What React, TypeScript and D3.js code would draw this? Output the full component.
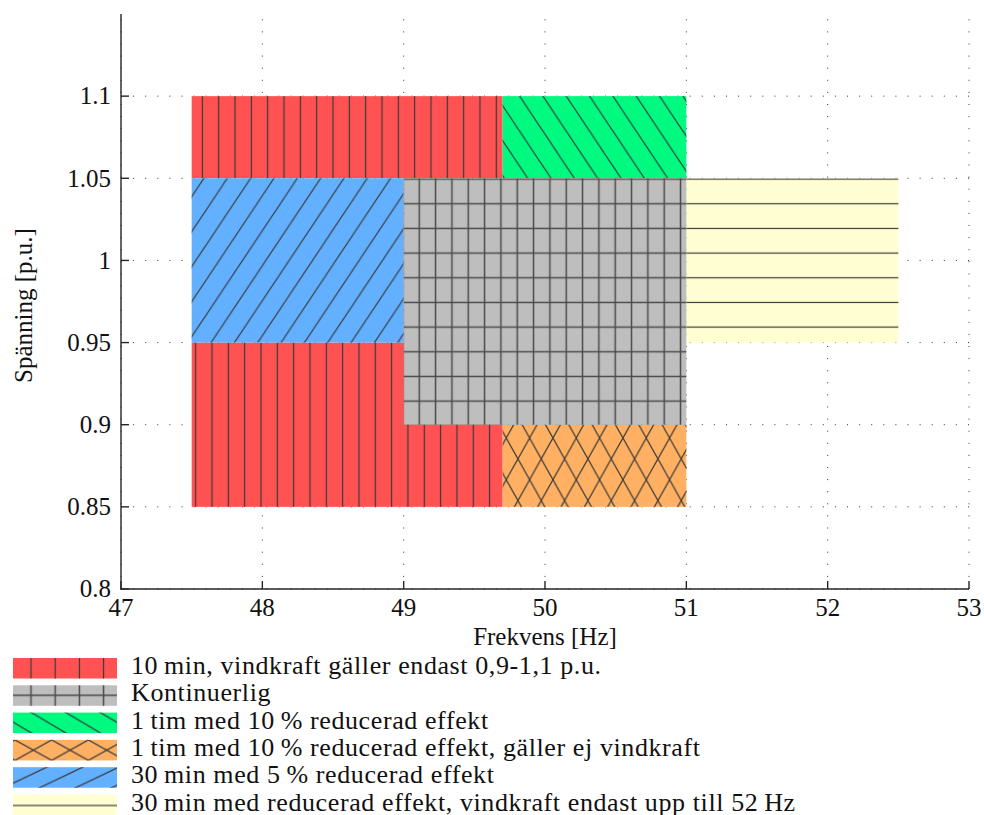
import React from 'react';
import * as d3 from 'd3';

// axis ticks
const freqTicks = [47, 48, 49, 50, 51, 52, 53];
const voltTicks = [0.8, 0.85, 0.9, 0.95, 1, 1.05, 1.1];
const voltTickLabels = ['0.8', '0.85', '0.9', '0.95', '1', '1.05', '1.1'];

// regions (draw order), frequency [Hz] and voltage [p.u.] bounds
const regionKeys = ['redTop', 'redBottom', 'green', 'orange', 'yellow', 'blue', 'gray'];
const regionFreqLo = [47.5, 47.5, 49.7, 49.7, 51, 47.5, 49];
const regionFreqHi = [49.7, 49.7, 51, 51, 52.5, 49, 51];
const regionVoltLo = [1.05, 0.85, 1.05, 0.85, 0.95, 0.95, 0.9];
const regionVoltHi = [1.1, 0.95, 1.1, 0.9, 1.05, 1.05, 1.05];
const regionKind = ['red', 'red', 'green', 'orange', 'yellow', 'blue', 'gray'];

// legend
const legendKinds = ['red', 'gray', 'green', 'orange', 'blue', 'yellow'];
const legendLabels = [
  '10\u2009min, vindkraft gäller endast 0,9-1,1 p.u.',
  'Kontinuerlig',
  '1\u2009tim med 10\u2009% reducerad effekt',
  '1\u2009tim med 10\u2009% reducerad effekt, gäller ej vindkraft',
  '30\u2009min med 5\u2009% reducerad effekt',
  '30\u2009min med reducerad effekt, vindkraft endast upp till 52\u2009Hz',
];

const fills: Record<string, string> = {
  red: '#ff5252',
  gray: '#bebebe',
  green: '#00fa80',
  orange: '#ffb062',
  blue: '#62b0ff',
  yellow: '#ffffd2',
};

// hatch look for each region: type, tile size, anchor offset from rect top-left
const plotHatch: Record<string, any> = {
  redTop: { type: 'v', w: 16.33, h: 20, dx: 10.7, dy: 0 },
  redBottom: { type: 'v', w: 16.33, h: 20, dx: 4, dy: 0 },
  gray: { type: 'grid', w: 16.33, h: 24.67, dx: 15.6, dy: 0.8 },
  yellow: { type: 'h', w: 20, h: 24.67, dx: 0, dy: 0.8 },
  blue: { type: 'fwd', w: 23.33, h: 35, dx: 12.3, dy: 0 },
  green: { type: 'back', w: 23.33, h: 35, dx: 17, dy: 0 },
  orange: { type: 'cross', w: 23.33, h: 41.7, dx: 27, dy: 13.3 },
};

const legendHatch: Record<string, any> = {
  red: { type: 'v', w: 24.2, h: 20, dx: 18, dy: 0 },
  gray: { type: 'grid', w: 24.2, h: 60, dx: 18, dy: 10 },
  green: { type: 'back', w: 34.5, h: 20.5, dx: 18.5, dy: 0 },
  orange: { type: 'cross', w: 36.7, h: 20.5, dx: 38.7, dy: 0 },
  blue: { type: 'fwd', w: 36, h: 17.2, dx: 33.7, dy: 0 },
  yellow: { type: 'h', w: 20, h: 60, dx: 0, dy: 11 },
};

const W = 984;
const H = 815;
const margin = { left: 121, right: 15, top: 14, bottom: 226 };
const serif = { fontFamily: '"Liberation Serif", serif' };
const fontSize = 25;
const ink = '#262626';

function Hatch({ id, spec, x0, y0 }: { id: string; spec: any; x0: number; y0: number }) {
  const { type, w, h, dx, dy } = spec;
  const stroke = type === 'grid' ? '#4a4a4a' : '#383838';
  const sw = type === 'grid' ? 1.5 : 1.2;
  let px = x0 + dx;
  let py = y0 + dy;
  let d = '';
  if (type === 'v') {
    px -= w / 2;
    d = `M${w / 2},-1V${h + 1}`;
  } else if (type === 'h') {
    py -= h / 2;
    d = `M-1,${h / 2}H${w + 1}`;
  } else if (type === 'grid') {
    px -= w / 2;
    py -= h / 2;
    d = `M${w / 2},-1V${h + 1}M-1,${h / 2}H${w + 1}`;
  } else {
    const fwd = [-w, 0, w].map(o => `M${o - w},${2 * h}L${o + 2 * w},${-h}`).join('');
    const back = [-w, 0, w].map(o => `M${o - w},${-h}L${o + 2 * w},${2 * h}`).join('');
    d = type === 'fwd' ? fwd : type === 'back' ? back : fwd + back;
  }
  return (
    <pattern id={id} patternUnits="userSpaceOnUse" x={px} y={py} width={w} height={h}>
      <path d={d} stroke={stroke} strokeWidth={sw} fill="none" />
    </pattern>
  );
}

export default function App() {
  const x = d3.scaleLinear().domain([47, 53]).range([margin.left, W - margin.right]);
  const y = d3.scaleLinear().domain([0.8, 1.15]).range([H - margin.bottom, margin.top]);
  const [x0, x1] = x.range();
  const [yb, yt] = y.range();

  const legendTop = 658;
  const legendStep = 27.3;
  const swatch = { x: 13, w: 104, h: 20.5 };

  return (
    <svg width={W} height={H} style={{ position: 'absolute', left: 0, top: 0 }}>
      <defs>
        {regionKeys.map((k, i) => (
          <Hatch key={k} id={`hatch-${k}`} spec={plotHatch[k]} x0={x(regionFreqLo[i])} y0={y(regionVoltHi[i])} />
        ))}
        {legendKinds.map((k, i) => (
          <Hatch key={k} id={`leg-${k}`} spec={legendHatch[k]} x0={swatch.x} y0={legendTop + i * legendStep} />
        ))}
      </defs>

      {/* dotted grid */}
      <g stroke="#333" strokeWidth={1} strokeDasharray="1 11.1">
        {voltTicks.map(t => (
          <line key={`gy${t}`} x1={x0} x2={x1} y1={y(t)} y2={y(t)} />
        ))}
        {freqTicks.map(t => (
          <line key={`gx${t}`} x1={x(t)} x2={x(t)} y1={yb} y2={yt} />
        ))}
      </g>

      {/* regions */}
      {regionKeys.map((k, i) => {
        const rx = x(regionFreqLo[i]);
        const ry = y(regionVoltHi[i]);
        const rw = x(regionFreqHi[i]) - rx;
        const rh = y(regionVoltLo[i]) - ry;
        return (
          <g key={k}>
            <rect x={rx} y={ry} width={rw} height={rh} fill={fills[regionKind[i]]} />
            <rect x={rx} y={ry} width={rw} height={rh} fill={`url(#hatch-${k})`} />
          </g>
        );
      })}

      {/* axes */}
      <g stroke={ink} strokeWidth={1.4}>
        <line x1={x0} x2={x0} y1={yt} y2={yb + 0.7} />
        <line x1={x0 - 0.7} x2={x1} y1={yb} y2={yb} />
        {voltTicks.map(t => (
          <line key={`ty${t}`} x1={x0} x2={x0 + 8} y1={y(t)} y2={y(t)} />
        ))}
        {freqTicks.map(t => (
          <line key={`tx${t}`} x1={x(t)} x2={x(t)} y1={yb} y2={yb - 8} />
        ))}
      </g>

      {voltTicks.map((t, i) => (
        <text key={`ly${t}`} x={x0 - 10} y={y(t)} dy="0.33em" textAnchor="end" fontSize={fontSize} fill="#111" style={serif}>
          {voltTickLabels[i]}
        </text>
      ))}
      {freqTicks.map(t => (
        <text key={`lx${t}`} x={x(t)} y={yb + 27} textAnchor="middle" fontSize={fontSize} fill="#111" style={serif}>
          {t}
        </text>
      ))}
      <text x={(x0 + x1) / 2} y={yb + 56} textAnchor="middle" fontSize={fontSize} fill="#111" style={serif}>
        Frekvens [Hz]
      </text>
      <text
        transform={`translate(32,${(yt + yb) / 2 + 4}) rotate(-90)`}
        textAnchor="middle"
        fontSize={fontSize}
        fill="#111"
        style={serif}
      >
        Spänning [p.u.]
      </text>

      {/* legend */}
      {legendKinds.map((k, i) => {
        const top = legendTop + i * legendStep;
        return (
          <g key={`leg${k}`}>
            <rect x={swatch.x} y={top} width={swatch.w} height={swatch.h} fill={fills[k]} />
            <rect x={swatch.x} y={top} width={swatch.w} height={swatch.h} fill={`url(#leg-${k})`} />
            <text x={131} y={top + 16} fontSize={26} letterSpacing={0.6} fill="#111" style={serif}>
              {legendLabels[i]}
            </text>
          </g>
        );
      })}
    </svg>
  );
}
